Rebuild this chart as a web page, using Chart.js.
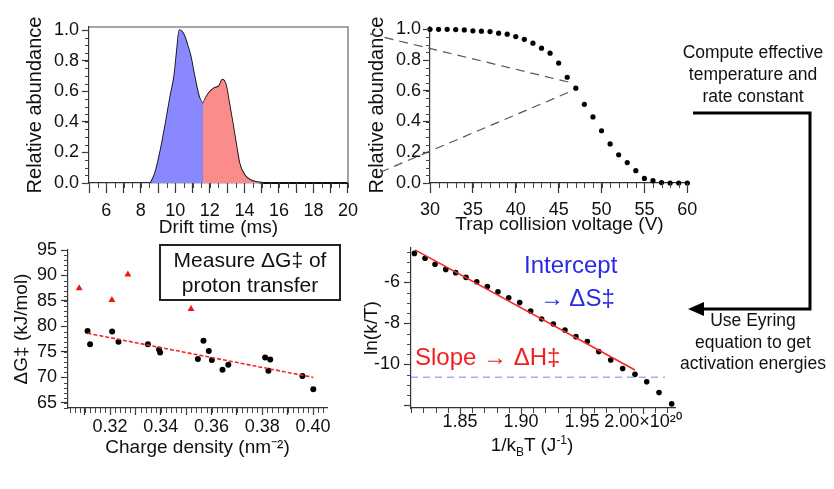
<!DOCTYPE html>
<html>
<head>
<meta charset="utf-8">
<script src="https://cdn.jsdelivr.net/npm/chart.js@4.4.1/dist/chart.umd.min.js"></script>
<style>
  html, body { margin:0; padding:0; background:#fff; }
  body { width:834px; height:489px; position:relative; overflow:hidden; font-family:'Liberation Sans', Arial, sans-serif; color:#111; }
  canvas { position:absolute; }
  .txt { position:absolute; white-space:nowrap; }
</style>
</head>
<body>
<canvas id="c1" width="365" height="245" style="left:0px;top:0px"></canvas>
<canvas id="c2" width="350" height="245" style="left:360px;top:0px"></canvas>
<canvas id="c3" width="360" height="240" style="left:0px;top:225px"></canvas>
<canvas id="c4" width="350" height="235" style="left:360px;top:225px"></canvas>

<div class="txt" style="left:159px;top:244px;width:178px;height:52px;border:2.5px solid #222;font-size:21px;line-height:25px;text-align:center;padding-top:1px;">Measure ΔG‡ of<br>proton transfer</div>
<div class="txt" style="left:524px;top:251px;font-size:24px;line-height:28px;color:#2a2ae6;">Intercept</div>
<div class="txt" style="left:540px;top:284px;font-size:24px;line-height:28px;color:#2a2ae6;">→ ΔS‡</div>
<div class="txt" style="left:415px;top:343px;font-size:24px;line-height:28px;color:#f02020;">Slope → ΔH‡</div>
<div class="txt" style="left:432px;top:429px;width:200px;text-align:center;font-size:19px;line-height:22px;">1/k<sub style="font-size:12px;">B</sub>T (J<sup style="font-size:12px;">-1</sup>)</div>

<div class="txt" style="left:673px;top:41px;width:160px;text-align:center;font-size:17.5px;line-height:22px;">Compute effective<br>temperature and<br>rate constant</div>
<div class="txt" style="left:673px;top:310px;width:160px;text-align:center;font-size:17.5px;line-height:21.5px;">Use Eyring<br>equation to get<br>activation energies</div>

<svg style="position:absolute;left:0;top:0" width="834" height="489">
  <polyline points="693,113 810,113 810,309 701,309" fill="none" stroke="#000" stroke-width="3"/>
  <polygon points="688,309 704,302 704,316" fill="#000"/>
</svg>

<script>
// ---------- Data ----------
// Panel 1: arrival time distribution
const driftTime = [8.58, 8.83, 9.12, 9.41, 9.71, 9.94, 10.10, 10.23, 10.49, 10.68, 10.88, 11.07, 11.27, 11.40, 11.60, 11.76, 11.95, 12.24, 12.54, 12.73, 12.93, 13.12, 13.32, 13.51, 13.71, 14.00, 14.39, 14.88, 15.17, 20.00];
const driftAbundance = [0, 0.065, 0.20, 0.37, 0.565, 0.70, 0.87, 1.00, 0.97, 0.91, 0.83, 0.72, 0.61, 0.555, 0.52, 0.555, 0.59, 0.62, 0.635, 0.675, 0.64, 0.52, 0.39, 0.26, 0.13, 0.054, 0.017, 0.004, 0, 0];
const splitTime = 11.60;
const driftTicks = [6, 8, 10, 12, 14, 16, 18, 20];

// Panel 2: breakdown curve
const trapVoltage = [30, 31, 32, 33, 34, 35, 36, 37, 38, 39, 40, 41, 42, 43, 44, 45, 46, 47, 48, 49, 50, 51, 52, 53, 54, 55, 56, 57, 58, 59, 60];
const survivalAbundance = [1.0, 1.0, 1.0, 0.998, 0.996, 0.99, 0.988, 0.985, 0.975, 0.968, 0.953, 0.935, 0.91, 0.877, 0.845, 0.78, 0.688, 0.617, 0.512, 0.43, 0.34, 0.254, 0.183, 0.133, 0.08, 0.03, 0.015, 0.003, 0, 0, 0];
const upperGuideX = [23.0, 46.5];
const upperGuideY = [0.97, 0.652];
const lowerGuideX = [24.2, 46.5];
const lowerGuideY = [0.07, 0.598];

// Panel 3: activation free energy vs charge density
const triangleDensity = [0.3078, 0.3207, 0.3270, 0.3519];
const triangleDG = [87.5, 85.2, 90.2, 83.4];
const dotDensity = [0.3111, 0.3121, 0.3208, 0.3233, 0.3349, 0.3393, 0.3397, 0.3546, 0.3568, 0.3589, 0.3601, 0.3643, 0.3666, 0.3811, 0.3831, 0.3824, 0.3958, 0.4001];
const dotDG = [79.1, 76.5, 79.0, 77.0, 76.5, 75.5, 74.9, 73.6, 77.2, 75.2, 73.4, 71.5, 72.5, 73.9, 73.5, 71.3, 70.3, 67.7];
const fitDensity = [0.3111, 0.4001];
const fitDG = [78.66, 70.0];

// Panel 4: Eyring plot
const invKT = [1.8126, 1.8213, 1.8295, 1.8383, 1.8464, 1.8549, 1.8637, 1.8724, 1.8811, 1.8899, 1.8989, 1.9079, 1.9169, 1.9265, 1.9360, 1.9450, 1.9543, 1.9637, 1.9735, 1.9833, 1.9934, 2.0030, 2.0131, 2.0235];
const lnKT = [-4.59, -4.83, -5.12, -5.37, -5.53, -5.76, -5.97, -6.21, -6.46, -6.75, -6.99, -7.40, -7.79, -8.03, -8.33, -8.65, -8.89, -9.38, -9.79, -10.20, -10.49, -10.85, -11.38, -11.93];
const slopeX = [1.8131, 1.9934];
const slopeY = [-4.42, -10.28];
const baselineX = [1.8098, 2.018];
const baselineY = [-10.63, -10.63];
const eyringTickExponent = '×10²⁰';

// ---------- Helpers ----------
const pts = (xs, ys) => xs.map((x, i) => ({x, y: ys[i]}));
Chart.defaults.font.family = "'Liberation Sans', Arial, sans-serif";
Chart.defaults.color = '#111';
Chart.defaults.animation = false;

const deco = {
  id: 'deco',
  afterDraw(chart, args, opts) {
    const {ctx, chartArea: a} = chart;
    ctx.save();
    if (opts.frame) {
      ctx.strokeStyle = opts.frame; ctx.lineWidth = 1.5;
      ctx.beginPath(); ctx.moveTo(a.left, a.top); ctx.lineTo(a.right, a.top); ctx.lineTo(a.right, a.bottom); ctx.stroke();
    }
    (opts.minor || []).forEach(m => {
      const s = chart.scales[m.axis];
      const i0 = Math.ceil(s.min / m.step - 1e-6), i1 = Math.floor(s.max / m.step + 1e-6);
      ctx.strokeStyle = '#444'; ctx.lineWidth = 1;
      ctx.beginPath();
      for (let i = i0; i <= i1; i++) {
        const p = Math.round(s.getPixelForValue(i * m.step)) + 0.5;
        if (m.axis === 'x') { ctx.moveTo(p, a.bottom); ctx.lineTo(p, a.bottom + m.len); }
        else { ctx.moveTo(a.left, p); ctx.lineTo(a.left - m.len, p); }
      }
      ctx.stroke();
    });
    ctx.restore();
  }
};

function axis(opts) {
  return {
    type: 'linear', min: opts.min, max: opts.max,
    afterFit: opts.fit,
    border: {display: true, color: '#333', width: 1.2},
    grid: {display: true, drawOnChartArea: false, drawTicks: true, tickLength: opts.tl || 8, color: '#333', tickWidth: 1.2},
    ticks: {stepSize: opts.step, includeBounds: false, autoSkip: false, maxRotation: 0, padding: opts.tp,
            font: {size: 18}, color: '#111', callback: opts.cb},
    title: {display: !!opts.title, text: opts.title, font: {size: opts.tsize || 19}, color: '#111', padding: opts.tpad || {top: 0, bottom: 0}}
  };
}

// ---------- Panel 1 ----------
const full = pts(driftTime, driftAbundance);
new Chart(document.getElementById('c1'), {
  type: 'line',
  data: {datasets: [
    {data: full.filter(p => p.x <= splitTime), fill: 'origin', backgroundColor: 'rgb(138,136,255)', borderWidth: 0, pointRadius: 0, cubicInterpolationMode: 'monotone'},
    {data: full.filter(p => p.x >= splitTime), fill: 'origin', backgroundColor: 'rgb(250,140,140)', borderWidth: 0, pointRadius: 0, cubicInterpolationMode: 'monotone'},
    {data: full, fill: false, borderColor: '#111', borderWidth: 1.8, pointRadius: 0, cubicInterpolationMode: 'monotone'},
    {data: pts([splitTime, splitTime], [0, 0.52]), fill: false, borderColor: '#222', borderWidth: 1.5, pointRadius: 0}
  ]},
  options: {
    responsive: false, clip: false,
    layout: {padding: {left: 0, top: 27, right: 13, bottom: 0}},
    plugins: {legend: {display: false}, tooltip: {enabled: false},
      deco: {frame: '#888', minor: [{axis: 'x', step: 0.5, len: 5}, {axis: 'y', step: 0.05, len: 4}]}},
    scales: {
      x: axis({min: 5, max: 20, step: 1, tl: 10, tp: 7, title: 'Drift time (ms)', tpad: {top: 0, bottom: 6},
               fit: s => { s.height = 62; }, cb: v => driftTicks.includes(v) ? String(v) : ''}),
      y: axis({min: 0, max: 1.02, step: 0.2, tl: 7, tp: 3, title: 'Relative abundance', tsize: 20, tpad: {top: 23, bottom: 0},
               fit: s => { s.width = 89; }, cb: v => v.toFixed(1)})
    }
  },
  plugins: [deco]
});

// ---------- Panel 2 ----------
new Chart(document.getElementById('c2'), {
  type: 'scatter',
  data: {datasets: [
    {type: 'line', data: pts(upperGuideX, upperGuideY), borderColor: '#555', borderWidth: 1.2, borderDash: [9, 6], pointRadius: 0, clip: false},
    {type: 'line', data: pts(lowerGuideX, lowerGuideY), borderColor: '#555', borderWidth: 1.2, borderDash: [9, 6], pointRadius: 0, clip: false},
    {data: pts(trapVoltage, survivalAbundance), backgroundColor: '#000', borderWidth: 0, pointRadius: 2.6, clip: false}
  ]},
  options: {
    responsive: false,
    layout: {padding: {left: 0, top: 27, right: 21, bottom: 0}},
    plugins: {legend: {display: false}, tooltip: {enabled: false},
      deco: {minor: [{axis: 'x', step: 1, len: 5}, {axis: 'y', step: 0.05, len: 4}]}},
    scales: {
      x: axis({min: 30, max: 60.2, step: 5, tl: 10, tp: 6, title: 'Trap collision voltage (V)', tpad: {top: 0, bottom: 9},
               fit: s => { s.height = 62; }, cb: v => String(v)}),
      y: axis({min: 0, max: 1.015, step: 0.2, tl: 7, tp: 2, title: 'Relative abundance', tsize: 20, tpad: {top: 5, bottom: 0},
               fit: s => { s.width = 70; }, cb: v => v.toFixed(1)})
    }
  },
  plugins: [deco]
});

// ---------- Panel 3 ----------
new Chart(document.getElementById('c3'), {
  type: 'scatter',
  data: {datasets: [
    {type: 'line', data: pts(fitDensity, fitDG), borderColor: 'rgb(240,40,40)', borderWidth: 1.6, borderDash: [4, 2], pointRadius: 0},
    {data: pts(triangleDensity, triangleDG), pointStyle: 'triangle', backgroundColor: 'rgb(240,20,20)', borderWidth: 0, pointRadius: 4},
    {data: pts(dotDensity, dotDG), backgroundColor: '#000', borderWidth: 0, pointRadius: 3}
  ]},
  options: {
    responsive: false, clip: false,
    layout: {padding: {left: 0, top: 25, right: 33, bottom: 0}},
    plugins: {legend: {display: false}, tooltip: {enabled: false},
      deco: {minor: [{axis: 'x', step: 0.002, len: 5}, {axis: 'y', step: 1, len: 4}]}},
    scales: {
      x: axis({min: 0.3034, max: 0.4055, step: 0.01, tl: 7, tp: 1, title: 'Charge density (nm⁻²)', tpad: {top: 0, bottom: 6},
               fit: s => { s.height = 57; }, cb: v => (Math.round(v * 100) % 2 === 0) ? v.toFixed(2) : ''}),
      y: axis({min: 64, max: 95, step: 5, tl: 7, tp: 4, title: 'ΔG‡ (kJ/mol)', tpad: {top: 10, bottom: 0},
               fit: s => { s.width = 68; }, cb: v => String(v)})
    }
  },
  plugins: [deco]
});

// ---------- Panel 4 ----------
new Chart(document.getElementById('c4'), {
  type: 'scatter',
  data: {datasets: [
    {type: 'line', data: pts(baselineX, baselineY), borderColor: 'rgba(120,120,245,0.65)', borderWidth: 1.4, borderDash: [7, 5], pointRadius: 0},
    {type: 'line', data: pts(slopeX, slopeY), borderColor: 'rgb(245,40,40)', borderWidth: 1.6, pointRadius: 0},
    {data: pts(invKT, lnKT), backgroundColor: '#000', borderWidth: 0, pointRadius: 2.8}
  ]},
  options: {
    responsive: false, clip: false,
    layout: {padding: {left: 0, top: 23, right: 35, bottom: 0}},
    plugins: {legend: {display: false}, tooltip: {enabled: false},
      deco: {minor: [{axis: 'x', step: 0.01, len: 5}, {axis: 'y', step: 0.5, len: 4}]}},
    scales: {
      x: axis({min: 1.8098, max: 2.0262, step: 0.05, tl: 6, tp: -3,
               fit: s => { s.height = 52; }, cb: v => Math.abs(v - 2) < 1e-6 ? v.toFixed(2) + eyringTickExponent : v.toFixed(2)}),
      y: axis({min: -12.13, max: -4.327, step: 2, tl: 7, tp: 4, title: 'ln(k/T)', tpad: {top: 0, bottom: 0},
               fit: s => { s.width = 51; }, cb: v => v > -11 ? String(v) : ''})
    }
  },
  plugins: [deco]
});
</script>
</body>
</html>
